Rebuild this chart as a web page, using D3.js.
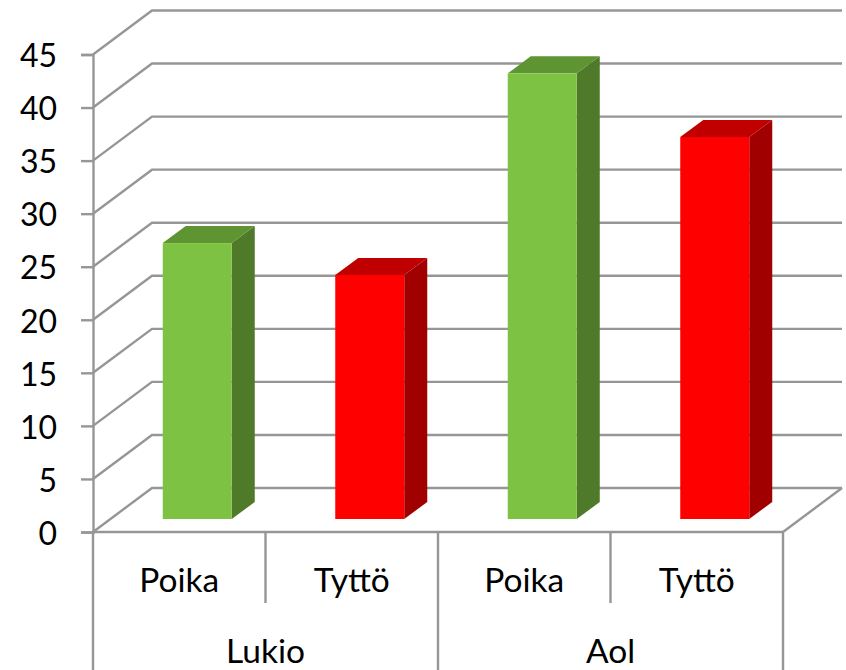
<!DOCTYPE html>
<html>
<head>
<meta charset="utf-8">
<style>
  html, body { margin: 0; padding: 0; background: #fff; }
  svg { display: block; }
  text { font-family: Lato, "Open Sans", sans-serif; fill: #000; }
</style>
<script src="https://cdn.jsdelivr.net/npm/d3@7"></script>
</head>
<body>
<div id="chart"></div>
<script>
// Valeurs
const groupes = ["Lukio", "Aol"];
const categories = ["Poika", "Tyttö", "Poika", "Tyttö"];
const valeurs = [26, 23, 42, 36];
const ticks = [0, 5, 10, 15, 20, 25, 30, 35, 40, 45];
const couleurs = {
  Poika: { face: "#7DC242", dessus: "#5E9432", cote: "#4E7A29" },
  "Tyttö": { face: "#FF0000", dessus: "#C00000", cote: "#A00000" }
};

const largeur = 846, hauteur = 670;
const gris = "#969696";
const gauche = 93, droite = 783, bas = 532, haut = 54.5;
const profondeur = [59, -44];   // décalage du mur du fond
const decalageBarre = [18, -13]; // position des barres sur le sol
const coteBarre = [23, -17];    // profondeur d'une barre

const svg = d3.select("#chart").append("svg")
  .attr("width", largeur)
  .attr("height", hauteur);

const y = d3.scaleLinear().domain([0, 45]).range([bas, haut]);
const x = d3.scaleBand().domain(d3.range(categories.length)).range([gauche, droite]);
const xGroupe = d3.scaleBand().domain(groupes).range([gauche, droite]);

/* Le fond : lignes de grille sur le mur et sur le côté gauche */
const grille = svg.append("g").attr("fill", "none").attr("stroke", gris).attr("stroke-width", 2.4);
ticks.forEach(t => {
  grille.append("path")
    .attr("d", "M" + gauche + "," + y(t) + " L" + (gauche + profondeur[0]) + "," + (y(t) + profondeur[1]) + " L" + (droite + profondeur[0]) + "," + (y(t) + profondeur[1]));
});
// Le bord droit du sol
grille.append("path")
  .attr("d", "M" + droite + "," + bas + " L" + (droite + profondeur[0]) + "," + (bas + profondeur[1]));

/* Les barres : face, dessus, côté */
const barres = svg.append("g");
valeurs.forEach((v, i) => {
  const c = couleurs[categories[i]];
  const largeurBarre = x.bandwidth() * 0.4;
  const x0 = x(i) + (x.bandwidth() - largeurBarre) / 2 + decalageBarre[0];
  const x1 = x0 + largeurBarre;
  const y1 = bas + decalageBarre[1];
  const y0 = y(v) + decalageBarre[1];
  const [dx, dy] = coteBarre;
  barres.append("path")
    .attr("fill", c.cote)
    .attr("d", "M" + x1 + "," + y0 + " L" + (x1 + dx) + "," + (y0 + dy) + " L" + (x1 + dx) + "," + (y1 + dy) + " L" + x1 + "," + y1 + " Z");
  barres.append("path")
    .attr("fill", c.dessus)
    .attr("d", "M" + x0 + "," + y0 + " L" + (x0 + dx) + "," + (y0 + dy) + " L" + (x1 + dx) + "," + (y0 + dy) + " L" + x1 + "," + y0 + " Z");
  barres.append("rect")
    .attr("fill", c.face)
    .attr("x", x0).attr("y", y0)
    .attr("width", largeurBarre).attr("height", y1 - y0);
});

/* Axe vertical */
const axeY = svg.append("g")
  .attr("transform", "translate(" + gauche + ",0)")
  .call(d3.axisLeft(y).tickValues(ticks).tickSize(12).tickPadding(24));
axeY.selectAll("path, line").attr("stroke", gris).attr("stroke-width", 2.4);
axeY.selectAll("text").attr("font-family", "Lato").attr("font-size", 32).attr("fill", "#000")
  .attr("transform", "translate(0,2)");

/* Axe horizontal à deux niveaux */
const axeX = svg.append("g").attr("stroke", gris).attr("stroke-width", 2.4);
axeX.append("line").attr("x1", gauche).attr("x2", droite).attr("y1", bas).attr("y2", bas);
categories.forEach((c, i) => {
  if (i % 2 == 1) {
    axeX.append("line")
      .attr("x1", x(i)).attr("x2", x(i))
      .attr("y1", bas).attr("y2", 603);
  }
  svg.append("text")
    .attr("x", x(i) + x.bandwidth() / 2)
    .attr("y", 592)
    .attr("text-anchor", "middle")
    .attr("font-size", 33.5)
    .text(c);
});
groupes.forEach(g => {
  axeX.append("line")
    .attr("x1", xGroupe(g)).attr("x2", xGroupe(g))
    .attr("y1", bas).attr("y2", hauteur);
  svg.append("text")
    .attr("x", xGroupe(g) + xGroupe.bandwidth() / 2)
    .attr("y", 663)
    .attr("text-anchor", "middle")
    .attr("font-size", 33.5)
    .text(g);
});
axeX.append("line").attr("x1", droite).attr("x2", droite).attr("y1", bas).attr("y2", hauteur);
</script>
</body>
</html>
